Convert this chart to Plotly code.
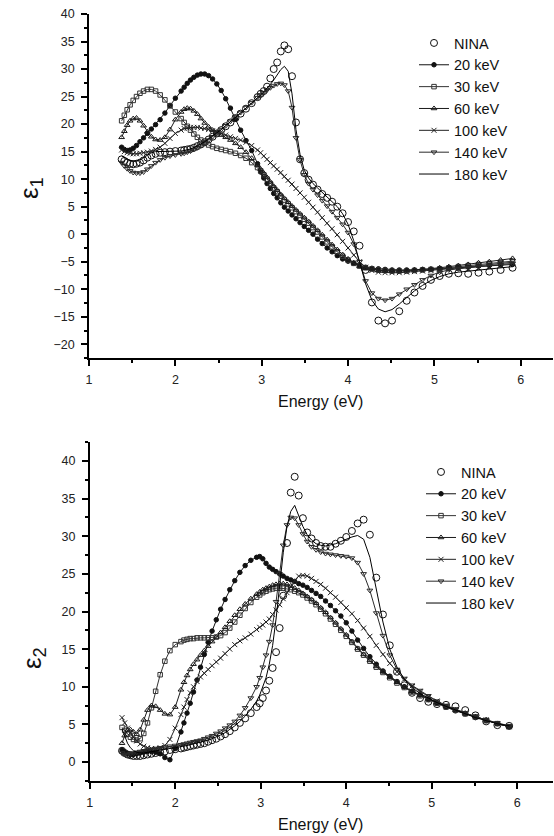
import plotly.graph_objects as go

# ---------------- data ----------------
energy = [1.378, 1.409, 1.442, 1.476, 1.512, 1.550, 1.590, 1.632, 1.676, 1.722,
          1.771, 1.824, 1.879, 1.938, 2.000, 2.067, 2.102, 2.138, 2.175, 2.214,
          2.255, 2.296, 2.340, 2.385, 2.431, 2.480, 2.531, 2.583, 2.638, 2.696,
          2.756, 2.818, 2.884, 2.952, 2.988, 3.024, 3.062, 3.100, 3.139, 3.179,
          3.221, 3.263, 3.307, 3.351, 3.397, 3.444, 3.493, 3.543, 3.594, 3.647,
          3.701, 3.758, 3.815, 3.875, 3.937, 4.000, 4.066, 4.133, 4.203, 4.276,
          4.351, 4.429, 4.509, 4.593, 4.679, 4.769, 4.863, 4.960, 5.061, 5.167,
          5.277, 5.391, 5.511, 5.636, 5.767, 5.905]

series_names = ["NINA", "20 keV", "30 keV", "60 keV", "100 keV", "140 keV", "180 keV"]

# epsilon_1
e1_nina = [13.6, 13.3, 13.0, 12.8, 12.7, 12.8, 13.0, 13.4, 13.9, 14.3,
           14.6, 14.8, 14.9, 15.0, 15.1, 15.2, 15.3, 15.4, 15.5, 15.7,
           16.0, 16.3, 16.7, 17.2, 17.7, 18.3, 18.9, 19.6, 20.3, 21.1,
           21.9, 22.8, 23.8, 24.9, 25.5, 26.0, 26.8, 28.3, 30.0, 31.2,
           33.2, 34.3, 33.6, 28.7, 20.3, 13.6, 11.1, 9.9, 9.0, 8.1,
           7.3, 6.6, 5.9, 5.0, 3.8, 2.2, 0.5, -2.1, -6.5, -12.4,
           -15.7, -16.2, -15.7, -14.0, -12.1, -10.6, -9.4, -8.3, -7.6, -7.2,
           -7.1, -7.2, -7.0, -6.8, -6.5, -6.1]
e1_20 = [15.8, 15.4, 15.2, 15.3, 15.6, 16.1, 16.8, 17.5, 18.3, 19.1,
         19.9, 20.8, 22.0, 23.4, 24.7, 26.0, 26.7, 27.4, 28.0, 28.5,
         28.9, 29.1, 29.1, 28.8, 28.2, 27.3, 26.1, 24.6, 22.9, 20.9,
         18.9, 17.0, 15.2, 12.8, 11.3, 10.2, 9.2, 8.3, 7.4, 6.6,
         5.7, 4.9, 4.2, 3.5, 2.8, 2.1, 1.4, 0.7, 0.0, -0.9,
         -1.7, -2.5, -3.2, -3.9, -4.5, -4.9, -5.3, -5.7, -6.0, -6.2,
         -6.3, -6.4, -6.5, -6.5, -6.5, -6.5, -6.4, -6.4, -6.3, -6.2,
         -6.1, -6.0, -5.8, -5.7, -5.6, -5.5]
e1_30 = [20.6, 21.6, 22.6, 23.5, 24.3, 25.0, 25.6, 26.0, 26.3, 26.3,
         26.0, 25.3, 24.4, 23.3, 22.2, 21.0, 20.3, 19.6, 18.9, 18.2,
         17.6, 17.1, 16.6, 16.2, 15.9, 15.6, 15.4, 15.2, 15.0, 14.7,
         14.3, 13.8, 13.0, 12.1, 11.5, 10.8, 10.0, 9.2, 8.4, 7.7,
         6.9, 6.2, 5.5, 4.8, 4.1, 3.4, 2.7, 2.0, 1.2, 0.4,
         -0.5, -1.4, -2.3, -3.2, -4.0, -4.7, -5.3, -5.8, -6.1, -6.3,
         -6.5, -6.6, -6.7, -6.7, -6.7, -6.6, -6.5, -6.4, -6.3, -6.1,
         -5.9, -5.7, -5.5, -5.3, -5.1, -4.9]
e1_60 = [17.6, 18.7, 19.8, 20.6, 21.0, 21.1, 20.6, 19.7, 18.6, 17.7,
         17.2, 17.1, 17.6, 19.0, 20.8, 22.2, 22.7, 22.9, 22.8, 22.4,
         21.8, 21.0, 20.2, 19.5, 18.9, 18.4, 18.0, 17.6, 17.1, 16.5,
         15.8, 14.9, 13.8, 12.5, 11.8, 11.1, 10.3, 9.5, 8.7, 8.0,
         7.2, 6.5, 5.8, 5.1, 4.4, 3.7, 3.0, 2.3, 1.5, 0.7,
         -0.1, -1.0, -1.9, -2.8, -3.7, -4.5, -5.2, -5.8, -6.2, -6.4,
         -6.6, -6.7, -6.7, -6.7, -6.6, -6.5, -6.4, -6.3, -6.1, -5.9,
         -5.7, -5.5, -5.2, -5.0, -4.7, -4.4]
e1_100 = [15.3, 15.0, 14.8, 14.7, 14.6, 14.6, 14.7, 14.8, 14.9, 15.1,
          15.4, 15.8, 16.5, 17.4, 18.3, 18.9, 19.2, 19.3, 19.4, 19.4,
          19.4, 19.3, 19.2, 19.0, 18.8, 18.6, 18.3, 18.0, 17.7, 17.4,
          17.1, 16.7, 16.1, 15.3, 14.8, 14.2, 13.6, 13.0, 12.4, 11.8,
          11.2, 10.5, 9.8, 9.1, 8.3, 7.5, 6.7, 5.8, 4.9, 4.0,
          3.0, 2.0, 1.0, -0.1, -1.3, -2.5, -3.8, -5.0, -6.0, -6.6,
          -6.9, -7.0, -7.0, -7.0, -6.9, -6.8, -6.7, -6.6, -6.5, -6.3,
          -6.1, -5.9, -5.7, -5.5, -5.3, -5.1]
e1_140 = [13.0, 12.4, 11.9, 11.5, 11.2, 11.1, 11.1, 11.3, 11.8, 12.4,
          13.0, 13.5, 13.9, 14.2, 14.4, 14.6, 14.7, 14.9, 15.1, 15.4,
          15.7, 16.1, 16.6, 17.1, 17.7, 18.3, 19.0, 19.7, 20.5, 21.3,
          22.1, 23.0, 23.9, 24.8, 25.3, 25.7, 26.2, 26.6, 27.0, 27.3,
          27.4, 27.1, 26.0, 23.0, 17.5, 13.5, 10.8, 9.2, 8.1, 7.1,
          6.1, 5.1, 4.1, 3.0, 1.8, 0.3, -1.8, -5.0, -8.5, -10.7,
          -11.7, -12.0, -11.7, -10.9, -10.0, -9.2, -8.3, -7.5, -6.9, -6.5,
          -6.3, -6.1, -5.9, -5.7, -5.5, -5.3]
e1_180 = [14.2, 13.9, 13.6, 13.4, 13.3, 13.3, 13.5, 13.9, 14.4, 14.8,
          15.0, 15.0, 15.0, 15.0, 15.0, 15.1, 15.2, 15.3, 15.5, 15.7,
          16.0, 16.4, 16.8, 17.3, 17.8, 18.4, 19.0, 19.7, 20.4, 21.2,
          22.0, 22.9, 23.8, 24.8, 25.3, 25.9, 26.5, 27.2, 28.0, 28.9,
          29.9, 30.5, 29.6, 25.5, 19.0, 14.5, 11.6, 10.2, 9.2, 8.4,
          7.6, 6.8, 6.0, 5.0, 3.7, 1.8, -1.2, -5.0, -9.0, -12.0,
          -13.6, -14.1, -13.7, -12.7, -11.5, -10.3, -9.3, -8.4, -7.7, -7.2,
          -6.9, -6.7, -6.5, -6.3, -6.1, -5.9]

# epsilon_2
e2_nina = [1.5, 1.2, 1.0, 0.9, 0.8, 0.8, 0.8, 0.9, 1.0, 1.1,
           1.2, 1.3, 1.4, 1.6, 1.7, 1.8, 1.9, 2.0, 2.1, 2.2,
           2.3, 2.4, 2.5, 2.7, 2.9, 3.1, 3.4, 3.7, 4.1, 4.6,
           5.2, 5.8, 6.5, 7.3, 7.8, 8.5, 9.5, 10.8, 12.5, 14.6,
           17.8, 22.1, 29.1, 35.8, 37.9, 35.4, 32.4, 30.5, 29.7, 29.1,
           28.7, 28.6, 28.6, 29.0, 29.4, 29.9, 30.7, 31.7, 32.2, 30.2,
           24.5, 19.6, 15.5, 12.0, 10.2, 9.2, 8.5, 8.0, 7.7, 7.6,
           7.4, 6.9, 6.2, 5.4, 4.9, 4.8]
e2_20 = [1.6, 1.3, 1.1, 1.0, 1.0, 1.1, 1.2, 1.3, 1.4, 1.4,
         1.3, 1.1, 0.6, 0.3, 1.8, 4.0, 5.2, 6.5, 7.8, 9.3,
         10.9, 12.6, 14.3, 15.9, 17.4, 18.9, 20.3, 21.6, 22.9, 24.1,
         25.2, 26.1, 26.8, 27.2, 27.3, 27.0, 26.4, 25.9, 25.6, 25.3,
         25.0, 24.7, 24.4, 24.2, 24.0, 23.7, 23.5, 23.2, 22.8, 22.4,
         22.0, 21.4, 20.8, 20.1, 19.4, 18.5, 17.4, 16.2, 15.1, 14.0,
         13.0, 12.1, 11.4, 10.7, 10.0, 9.4, 8.9, 8.3, 7.8, 7.3,
         6.8, 6.4, 5.9, 5.5, 5.1, 4.7]
e2_30 = [4.6, 4.2, 3.7, 3.3, 3.0, 2.9, 3.1, 3.8, 5.2, 7.2,
         9.4, 11.6, 13.4, 14.8, 15.6, 16.0, 16.2, 16.3, 16.4, 16.4,
         16.5, 16.5, 16.5, 16.5, 16.5, 16.6, 16.8, 17.2, 17.8, 18.6,
         19.5, 20.4, 21.2, 21.9, 22.2, 22.5, 22.7, 22.9, 23.0, 23.1,
         23.1, 23.1, 23.0, 22.9, 22.7, 22.5, 22.2, 21.8, 21.4, 20.9,
         20.3, 19.7, 19.0, 18.3, 17.5, 16.7, 15.9, 15.0, 14.2, 13.4,
         12.6, 11.9, 11.2, 10.5, 9.9, 9.3, 8.8, 8.3, 7.8, 7.3,
         6.9, 6.4, 6.0, 5.5, 5.1, 4.7]
e2_60 = [2.5, 3.5, 4.2, 4.3, 4.0, 3.7, 4.3, 5.6, 6.9, 7.5,
         7.4, 6.9, 6.4, 6.3, 7.3, 9.6, 10.6, 11.5, 12.3, 13.0,
         13.6, 14.2, 14.8, 15.4, 16.0, 16.6, 17.2, 17.9, 18.7, 19.5,
         20.3, 21.0, 21.7, 22.3, 22.6, 22.9, 23.1, 23.3, 23.5, 23.6,
         23.7, 23.7, 23.6, 23.4, 23.1, 22.8, 22.4, 22.0, 21.6, 21.1,
         20.5, 19.9, 19.2, 18.5, 17.7, 16.9, 16.0, 15.1, 14.3, 13.5,
         12.7, 12.0, 11.3, 10.6, 10.0, 9.4, 8.9, 8.4, 7.9, 7.4,
         6.9, 6.5, 6.0, 5.6, 5.1, 4.7]
e2_100 = [5.9, 5.2, 4.5, 3.9, 3.3, 2.8, 2.4, 2.1, 1.9, 1.8,
          1.8, 1.9, 2.2, 3.0, 4.5, 6.3, 7.3, 8.3, 9.2, 10.0,
          10.7, 11.3, 11.8, 12.3, 12.8, 13.3, 13.8, 14.4, 15.0, 15.6,
          16.1, 16.5, 17.0, 17.6, 17.9, 18.2, 18.6, 19.0, 19.6, 20.2,
          20.9, 21.7, 22.5, 23.3, 24.1, 24.7, 24.8, 24.7, 24.4, 24.0,
          23.6, 23.1, 22.5, 21.9, 21.2, 20.5, 19.7, 18.8, 17.8, 16.7,
          15.5, 14.3, 13.1, 12.0, 11.0, 10.1, 9.4, 8.7, 8.1, 7.5,
          7.0, 6.5, 6.0, 5.6, 5.1, 4.7]
e2_140 = [1.2, 1.0, 1.0, 1.1, 1.2, 1.3, 1.4, 1.5, 1.6, 1.7,
          1.8, 1.9, 2.0, 2.1, 2.2, 2.3, 2.4, 2.5, 2.6, 2.7,
          2.8, 2.9, 3.1, 3.3, 3.5, 3.8, 4.1, 4.5, 4.9, 5.4,
          6.2, 7.2, 8.5, 10.0, 11.2, 12.6, 14.2, 16.0, 18.2, 21.3,
          25.0, 28.8, 31.5, 32.5, 32.4, 31.5, 30.3, 29.3, 28.6, 28.2,
          27.9, 27.7, 27.6, 27.5, 27.4, 27.3, 27.1, 26.5, 25.0, 22.8,
          19.8, 16.8, 14.2, 12.3, 11.1, 10.2, 9.5, 8.8, 8.1, 7.5,
          7.0, 6.5, 6.0, 5.6, 5.2, 4.8]
e2_180 = [4.4, 3.4, 2.5, 1.9, 1.5, 1.3, 1.2, 1.2, 1.3, 1.4,
          1.5, 1.6, 1.7, 1.8, 1.9, 2.0, 2.1, 2.2, 2.3, 2.4,
          2.5, 2.6, 2.7, 2.9, 3.1, 3.3, 3.6, 3.9, 4.3, 4.8,
          5.4, 6.1, 7.0, 8.1, 8.9, 9.9, 11.2, 13.0, 15.5, 19.0,
          23.3, 27.8, 31.3, 33.3, 34.1, 32.8, 31.3, 30.2, 29.5, 29.0,
          28.8, 28.7, 28.8, 29.0, 29.3, 29.6, 29.9, 30.1, 29.6, 27.2,
          23.0, 18.6, 15.0, 12.6, 11.0, 9.9, 9.1, 8.5, 7.9, 7.4,
          6.9, 6.4, 5.9, 5.5, 5.1, 4.8]

x_ticks = [1, 2, 3, 4, 5, 6]
y1_ticks = [-20, -15, -10, -5, 0, 5, 10, 15, 20, 25, 30, 35, 40]
y2_ticks = [0, 5, 10, 15, 20, 25, 30, 35, 40]

# ---------------- styles ----------------
styles = {
    "NINA":    dict(mode="markers", symbol="circle-open", size=7, color="#111111"),
    "20 keV":  dict(mode="lines+markers", symbol="circle", size=4.5, color="#111111"),
    "30 keV":  dict(mode="lines+markers", symbol="square-open", size=4.5, color="#333333"),
    "60 keV":  dict(mode="lines+markers", symbol="triangle-up-open", size=5, color="#1a1a1a"),
    "100 keV": dict(mode="lines+markers", symbol="x-thin", size=5, color="#222222"),
    "140 keV": dict(mode="lines+markers", symbol="triangle-down-open", size=5, color="#2a2a2a"),
    "180 keV": dict(mode="lines", symbol=None, size=0, color="#000000"),
}

FONT = "Liberation Sans, Arial, Helvetica, sans-serif"

fig = go.Figure()

def add_series(values, name, xa, ya, legend):
    st = styles[name]
    kw = dict(x=energy, y=values, name=name, mode=st["mode"], xaxis=xa, yaxis=ya,
              legend=legend, showlegend=True)
    if "lines" in st["mode"]:
        kw["line"] = dict(color=st["color"], width=1)
    if "markers" in st["mode"]:
        kw["marker"] = dict(symbol=st["symbol"], size=st["size"], color=st["color"],
                            line=dict(color=st["color"], width=1))
    fig.add_trace(go.Scatter(**kw))

top = [e1_nina, e1_20, e1_30, e1_60, e1_100, e1_140, e1_180]
bot = [e2_nina, e2_20, e2_30, e2_60, e2_100, e2_140, e2_180]
for vals, nm in zip(top, series_names):
    add_series(vals, nm, "x", "y", "legend")
for vals, nm in zip(bot, series_names):
    add_series(vals, nm, "x2", "y2", "legend2")

W, H = 554, 836
def px_x(p):
    return p / W
def px_y(p):
    return 1 - p / H

axis_common = dict(showgrid=False, zeroline=False, showline=True, linecolor="black",
                   linewidth=1.5, tickcolor="black", tickwidth=1.5,
                   tickfont=dict(family=FONT, size=12.5, color="#222"))

xr_top = [1, 6.37]
xr_bot = [1, 6.414]
yr_top = [-22.55, 40]
yr_bot = [-2.56, 42.52]

dom_x_top = [px_x(89), px_x(552.7)]
dom_x_bot = [px_x(89.7), px_x(552.7)]
dom_y_top = [px_y(358.3), px_y(14)]
dom_y_bot = [px_y(781.3), px_y(442)]

def xaxis(dom, rng, anchor, outside=True, overlay=None, labels=True):
    d = dict(axis_common, domain=dom, range=rng, anchor=anchor, tickmode="array",
             tickvals=x_ticks, ticks="outside" if outside else "inside", ticklen=6,
             showticklabels=labels, ticklabelstandoff=3,
             minor=dict(tickmode="linear", tick0=1, dtick=0.5,
                        ticks="outside" if outside else "inside", ticklen=3,
                        tickwidth=1.5, tickcolor="black"))
    if overlay:
        d.update(overlaying=overlay, side="top")
    return d

def yaxis(dom, rng, anchor, tv, outside=True, overlay=None, labels=True):
    d = dict(axis_common, domain=dom, range=rng, anchor=anchor, tickmode="array",
             tickvals=tv, ticks="outside" if outside else "inside", ticklen=6,
             showticklabels=labels, ticklabelstandoff=4,
             minor=dict(tickmode="linear", tick0=0, dtick=2.5,
                        ticks="outside" if outside else "inside", ticklen=3,
                        tickwidth=1.5, tickcolor="black"))
    if overlay:
        d.update(overlaying=overlay, side="right")
    return d

legend_common = dict(font=dict(family=FONT, size=14.5, color="#111"), bgcolor="rgba(0,0,0,0)",
                     borderwidth=0, xanchor="left", yanchor="top", tracegroupgap=0,
                     itemclick=False)

fig.update_layout(
    width=W, height=H,
    margin=dict(l=0, r=0, t=0, b=0, autoexpand=False),
    paper_bgcolor="white", plot_bgcolor="white",
    font=dict(family=FONT, color="#111"),
    xaxis=xaxis(dom_x_top, xr_top, "y"),
    yaxis=yaxis(dom_y_top, yr_top, "x", y1_ticks),
    xaxis3=xaxis(dom_x_top, xr_top, "y", outside=False, overlay="x", labels=False),
    yaxis3=yaxis(dom_y_top, yr_top, "x", y1_ticks, outside=False, overlay="y", labels=False),
    xaxis2=xaxis(dom_x_bot, xr_bot, "y2"),
    yaxis2=yaxis(dom_y_bot, yr_bot, "x2", y2_ticks),
    xaxis4=xaxis(dom_x_bot, xr_bot, "y2", outside=False, overlay="x2", labels=False),
    yaxis4=yaxis(dom_y_bot, yr_bot, "x2", y2_ticks, outside=False, overlay="y2", labels=False),
    legend=dict(legend_common, x=px_x(414), y=px_y(27)),
    legend2=dict(legend_common, x=px_x(421), y=px_y(456)),
    showlegend=True,
)

annots = [
    dict(text="Energy (eV)", x=px_x(320), y=px_y(401)),
    dict(text="Energy (eV)", x=px_x(320), y=px_y(824)),
    dict(text="ε<sub>1</sub>", x=px_x(31), y=px_y(188), textangle=-90,
         font=dict(family=FONT, size=26, color="#111")),
    dict(text="ε<sub>2</sub>", x=px_x(33), y=px_y(658), textangle=-90,
         font=dict(family=FONT, size=26, color="#111")),
]
for a in annots:
    a.update(xref="paper", yref="paper", showarrow=False, xanchor="center", yanchor="middle")
    a.setdefault("font", dict(family=FONT, size=16, color="#111"))
fig.update_layout(annotations=annots)

fig.write_html("out.html")
